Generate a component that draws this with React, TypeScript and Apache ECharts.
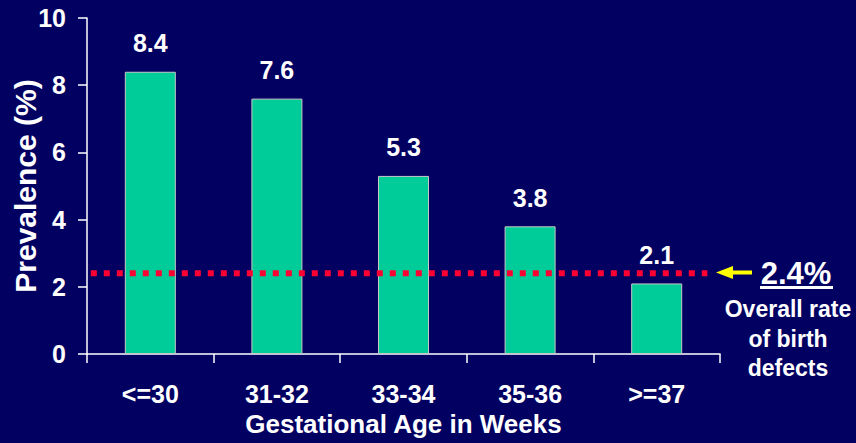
import React, { useEffect, useRef } from "react";
import * as echarts from "echarts";

const categories = ["<=30", "31-32", "33-34", "35-36", ">=37"];
const prevalence = [8.4, 7.6, 5.3, 3.8, 2.1];
const overallRate = 2.4;
const overallLabel = "2.4%";
const overallNote = ["Overall rate", "of birth", "defects"];
const refLineSpan = [0.03, 4.9];

const FONT = "'Liberation Sans', Arial, sans-serif";
const BG = "#020162";

export default function App() {
  const ref = useRef<HTMLDivElement>(null);
  useEffect(() => {
    document.body.style.margin = "0";
    const chart = echarts.init(ref.current!, null, { renderer: "svg" });
    chart.setOption({
      animation: false,
      backgroundColor: BG,
      textStyle: { fontFamily: FONT },
      grid: { left: 87, right: 136, top: 18, bottom: 89, containLabel: false, outerBoundsMode: "none" },
      xAxis: [
        {
          type: "category",
          data: categories,
          boundaryGap: true,
          axisLine: { lineStyle: { color: "#ffffff", width: 1.5 } },
          axisTick: { show: true, length: 9, lineStyle: { color: "#ffffff", width: 1.5 } },
          axisLabel: { color: "#ffffff", fontSize: 25, fontWeight: "bold", margin: 27, fontFamily: FONT },
          name: "Gestational Age in Weeks",
          nameLocation: "middle",
          nameGap: 57,
          nameMoveOverlap: false,
          nameTextStyle: { color: "#ffffff", fontSize: 26, fontWeight: "bold", fontFamily: FONT },
        },
        { type: "value", min: 0, max: 5, show: false },
      ],
      yAxis: {
        type: "value",
        min: 0,
        max: 10,
        interval: 2,
        axisLine: { show: true, lineStyle: { color: "#ffffff", width: 1.5 } },
        axisTick: { show: true, length: 9, lineStyle: { color: "#ffffff", width: 1.5 } },
        splitLine: { show: false },
        axisLabel: { color: "#ffffff", fontSize: 25, fontWeight: "bold", margin: 21, fontFamily: FONT },
        name: "Prevalence (%)",
        nameLocation: "middle",
        nameGap: 47,
        nameMoveOverlap: false,
        nameTextStyle: { color: "#ffffff", fontSize: 30, fontWeight: "bold", fontFamily: FONT },
      },
      series: [
        {
          type: "bar",
          data: prevalence,
          barWidth: 51,
          itemStyle: { color: "#00CC99", borderColor: "#C8C8C8", borderWidth: 1 },
          label: {
            show: true,
            position: "top",
            distance: 16,
            color: "#ffffff",
            fontSize: 25,
            fontWeight: "bold",
            fontFamily: FONT,
          },
        },
        {
          type: "line",
          xAxisIndex: 1,
          data: refLineSpan.map((x) => [x, overallRate]),
          symbol: "none",
          clip: false,
          z: 5,
          lineStyle: { color: "#FF0033", width: 6, type: [6, 7], cap: "butt" },
        },
      ],
      graphic: [
        {
          type: "polygon",
          shape: { points: [[716, 272.5], [733, 266], [733, 270.5], [752, 270.5], [752, 274.5], [733, 274.5], [733, 279]] },
          style: { fill: "#FFFF00" },
        },
        {
          type: "text",
          x: 796,
          y: 273,
          style: {
            text: overallLabel,
            fill: "#ffffff",
            font: `bold 31px ${FONT}`,
            textAlign: "center",
            textVerticalAlign: "middle",
          },
        },
        {
          type: "rect",
          shape: { x: 760, y: 286, width: 73, height: 3 },
          style: { fill: "#ffffff" },
        },
        ...overallNote.map((t, i) => ({
          type: "text",
          x: 788,
          y: 309 + i * 29.5,
          style: {
            text: t,
            fill: "#ffffff",
            font: `bold 23px ${FONT}`,
            textAlign: "center",
            textVerticalAlign: "middle",
          },
        })),
      ],
    });
    return () => chart.dispose();
  }, []);
  return <div ref={ref} style={{ position: "absolute", left: 0, top: 0, width: 856, height: 443 }} />;
}
